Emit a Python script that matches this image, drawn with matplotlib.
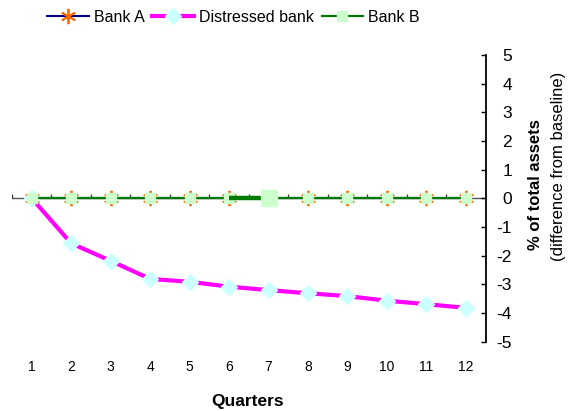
import matplotlib
matplotlib.use("Agg")
import matplotlib.pyplot as plt
import numpy as np

plt.rcParams['font.family'] = ['Liberation Sans', 'DejaVu Sans']

quarters = [1, 2, 3, 4, 5, 6, 7, 8, 9, 10, 11, 12]
bank_a = [0, 0, 0, 0, 0, 0, 0, 0, 0, 0, 0, 0]
distressed = [0, -1.57, -2.18, -2.81, -2.91, -3.08, -3.20, -3.31, -3.41, -3.57, -3.69, -3.82]
bank_b = [0, 0, 0, 0, 0, 0, 0, 0, 0, 0, 0, 0]
y_ticks = [-5, -4, -3, -2, -1, 0, 1, 2, 3, 4, 5]

fig = plt.figure(figsize=(5.70, 4.11), dpi=100)
ax = fig.add_axes([0.0211, 0.1686, 0.8307, 0.6976])

ax.set_xlim(0.5, 12.5)
ax.set_ylim(-5, 5)

# category axis drawn through zero, with tick marks between categories
ax.axhline(0, color='#555555', lw=1.0, zorder=1)
bounds = np.arange(0.5, 13.0, 1.0)
ax.vlines(bounds, 0, 0.14, color='#333333', lw=0.9, zorder=1)

ax.plot(quarters, bank_a, color='#000080', lw=1.5, marker=(6, 2, 0),
        ms=11, mec='#FF6600', mew=1.3, label='Bank A', zorder=2)
ax.plot(quarters, distressed, color='#FF00FF', lw=3, marker='D', ms=8.5,
        mfc='#CCFFFF', mec='#CCFFFF', label='Distressed bank', zorder=3)
ax.plot(quarters, bank_b, color='#007A00', lw=1.6, marker='s', ms=7.5,
        mfc='#CCFFCC', mec='#CCFFCC', label='Bank B', zorder=4)
# formatted point 7 of Bank B (thicker segment and larger marker)
ax.plot(quarters[5:7], bank_b[5:7], color='#007A00', lw=3.2, zorder=4,
        solid_capstyle='butt')
ax.plot(quarters[6:7], bank_b[6:7], ls='none', marker='s', ms=12,
        mfc='#CCFFCC', mec='#CCFFCC', zorder=5)

for s in ['top', 'left', 'bottom']:
    ax.spines[s].set_visible(False)
ax.spines['right'].set_linewidth(1.3)
ax.spines['right'].set_color('black')

ax.yaxis.tick_right()
ax.set_yticks(y_ticks)
ax.set_yticklabels([str(v) for v in y_ticks])
ax.tick_params(axis='y', direction='in', length=3.5, width=1.0,
               labelsize=12.5, pad=19)
for lbl in ax.get_yticklabels():
    lbl.set_horizontalalignment('right')

ax.set_xticks(quarters)
ax.set_xticklabels([str(q) for q in quarters])
ax.tick_params(axis='x', length=0, labelsize=10, pad=13)

fig.text(248 / 570, 1 - 401 / 411, 'Quarters', ha='center', va='center',
         fontsize=12.5, fontweight='bold')
fig.text(535 / 570, 1 - 185 / 411, '% of total assets', rotation=90,
         ha='center', va='center', fontsize=12, fontweight='bold')
fig.text(559 / 570, 1 - 166 / 411, '(difference from baseline)', rotation=90,
         ha='center', va='center', fontsize=12)

h, l = ax.get_legend_handles_labels()
fig.legend(h[:3], l[:3], loc='center', bbox_to_anchor=(233.5 / 570, 1 - 17 / 411),
           ncol=3, frameon=False, fontsize=11.5, handlelength=2.6,
           handletextpad=0.3, columnspacing=0.5, borderaxespad=0)

fig.savefig('out.png', dpi=100)
